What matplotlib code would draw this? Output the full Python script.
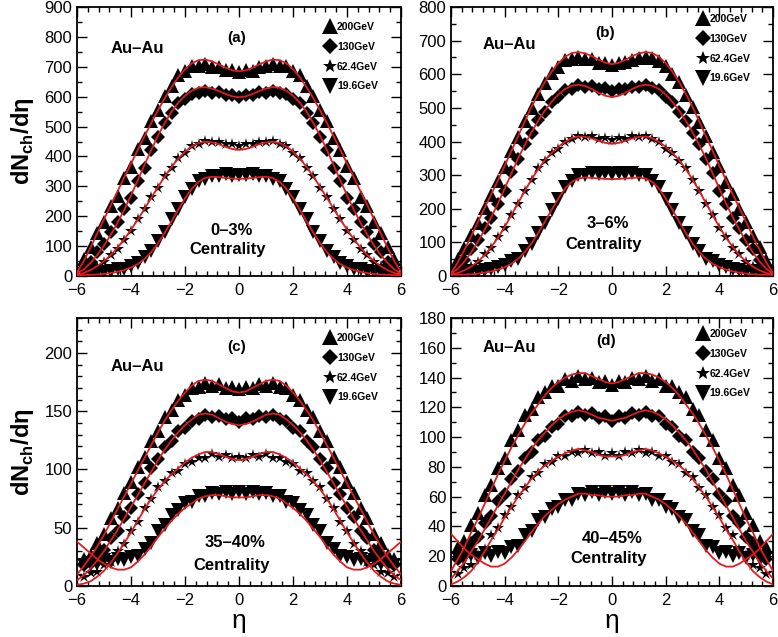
import numpy as np
import matplotlib
matplotlib.use("Agg")
import matplotlib.pyplot as plt
from matplotlib.ticker import MultipleLocator

plt.rcParams['font.family'] = ['Liberation Sans', 'DejaVu Sans']
plt.rcParams['mathtext.fontset'] = 'custom'
plt.rcParams['mathtext.rm'] = 'Liberation Sans'
plt.rcParams['mathtext.bf'] = 'Liberation Sans:bold'

# pseudorapidity grids (data points and fit curves)
eta = np.arange(-5.75, 5.76, 0.25)
eta_fit = np.arange(-6.0, 6.01, 0.25)

energies = ["200GeV", "130GeV", "62.4GeV", "19.6GeV"]

# --- (a) 0-3% ---
a_200 = [58, 96, 143, 181, 233, 268, 328, 366, 424, 461, 518, 556, 603, 637, 671, 685, 703, 704, 709, 700, 699, 688, 689,
         681, 688, 687, 699, 701, 708, 704, 702, 686, 671, 637, 603, 557, 518, 462, 423, 367, 328, 266, 233, 182, 143, 97, 57]
a_130 = [28, 48, 80, 107, 148, 180, 225, 262, 318, 363, 421, 465, 513, 545, 578, 591, 609, 611, 620, 613, 616, 605, 607,
         599, 606, 605, 616, 613, 620, 611, 609, 591, 578, 545, 513, 465, 421, 363, 318, 262, 225, 180, 148, 107, 80, 48, 28]
a_62 = [13, 19, 33, 47, 70, 90, 122, 151, 190, 223, 264, 296, 335, 363, 394, 412, 434, 442, 451, 447, 449, 441, 442,
        436, 442, 441, 449, 447, 451, 442, 434, 412, 394, 363, 335, 296, 264, 223, 190, 151, 122, 90, 70, 47, 33, 19, 13]
a_19 = [6, 8, 9, 14, 16, 22, 25, 35, 43, 64, 83, 117, 148, 190, 223, 264, 290, 317, 326, 336, 335, 340, 336,
        339, 337, 340, 335, 336, 326, 317, 290, 264, 223, 190, 148, 117, 83, 64, 43, 35, 25, 22, 16, 14, 9, 8, 6]
a_200_fit = [12, 50, 95, 143, 190, 237, 283, 330, 376, 422, 468, 512, 555, 595, 632, 665, 692, 712, 722, 724, 718, 708, 697, 688,
             685, 688, 697, 708, 718, 724, 722, 712, 692, 665, 632, 595, 555, 512, 468, 422, 376, 330, 283, 237, 190, 143, 95, 50, 12]
a_130_fit = [8, 22, 44, 70, 102, 138, 178, 222, 270, 320, 372, 422, 470, 512, 550, 580, 603, 620, 630, 632, 627, 619, 609, 601,
             598, 601, 609, 619, 627, 632, 630, 620, 603, 580, 550, 512, 470, 422, 372, 320, 270, 222, 178, 138, 102, 70, 44, 22, 8]
a_62_fit = [4, 10, 20, 33, 50, 70, 95, 123, 155, 189, 225, 262, 298, 333, 365, 393, 416, 434, 445, 449, 447, 441, 432, 425,
            422, 425, 432, 441, 447, 449, 445, 434, 416, 393, 365, 333, 298, 262, 225, 189, 155, 123, 95, 70, 50, 33, 20, 10, 4]
a_19_fit = [3, 3, 4, 5, 7, 10, 14, 20, 28, 40, 57, 80, 110, 145, 183, 222, 260, 292, 315, 328, 332, 331, 328, 326,
            325, 326, 328, 331, 332, 328, 315, 292, 260, 222, 183, 145, 110, 80, 57, 40, 28, 20, 14, 10, 7, 5, 4, 3, 3]

# --- (b) 3-6% ---
b_200 = [52, 83, 122, 158, 203, 240, 284, 323, 372, 413, 462, 500, 542, 573, 605, 623, 642, 646, 652, 646, 644, 634, 634,
         628, 633, 637, 641, 649, 651, 647, 639, 626, 601, 577, 538, 504, 458, 417, 368, 327, 280, 244, 198, 162, 118, 87, 48]
b_130 = [29, 48, 79, 106, 142, 173, 215, 252, 308, 347, 393, 425, 463, 487, 518, 532, 553, 557, 568, 562, 566, 556, 558,
         551, 557, 556, 562, 563, 567, 558, 552, 533, 517, 488, 462, 426, 392, 348, 307, 253, 214, 173, 142, 106, 79, 48, 29]
b_62 = [12, 18, 31, 43, 64, 83, 115, 143, 182, 214, 254, 285, 320, 343, 366, 378, 398, 406, 416, 413, 415, 408, 409,
        404, 409, 408, 415, 413, 416, 406, 398, 378, 366, 343, 320, 285, 254, 214, 182, 143, 115, 83, 64, 43, 31, 18, 12]
b_19 = [6, 7, 12, 13, 18, 20, 27, 32, 44, 52, 74, 95, 129, 158, 197, 228, 264, 283, 299, 300, 306, 303, 307,
        304, 307, 303, 306, 300, 299, 283, 264, 228, 197, 158, 129, 95, 74, 52, 44, 32, 27, 20, 18, 13, 12, 7, 6]
b_200_fit = [8, 40, 78, 118, 160, 202, 243, 285, 328, 372, 416, 460, 503, 542, 577, 608, 633, 652, 663, 666, 662, 654, 643, 634,
             630, 634, 643, 654, 662, 666, 663, 652, 633, 608, 577, 542, 503, 460, 416, 372, 328, 285, 243, 202, 160, 118, 78, 40, 8]
b_130_fit = [7, 21, 43, 70, 102, 137, 175, 216, 260, 305, 350, 390, 428, 462, 492, 518, 540, 556, 566, 569, 565, 556, 545, 536,
             532, 536, 545, 556, 565, 569, 566, 556, 540, 518, 492, 462, 428, 390, 350, 305, 260, 216, 175, 137, 102, 70, 43, 21, 7]
b_62_fit = [4, 9, 17, 28, 43, 62, 86, 114, 146, 181, 217, 253, 287, 318, 345, 366, 384, 399, 410, 415, 414, 409, 402, 396,
            393, 396, 402, 409, 414, 415, 410, 399, 384, 366, 345, 318, 287, 253, 217, 181, 146, 114, 86, 62, 43, 28, 17, 9, 4]
b_19_fit = [4, 4, 4, 5, 7, 10, 14, 19, 26, 36, 51, 71, 97, 128, 162, 197, 231, 260, 280, 290, 293, 292, 290, 289,
            288, 289, 290, 292, 293, 290, 280, 260, 231, 197, 162, 128, 97, 71, 51, 36, 26, 19, 14, 10, 7, 5, 4, 4, 4]

# --- (c) 35-40% ---
c_200 = [23, 27, 37, 45, 58, 67, 80, 89, 102, 111, 124, 133, 145, 151, 160, 164, 170, 171, 174, 172, 173, 170, 171,
         169, 171, 170, 173, 172, 174, 171, 170, 164, 160, 151, 145, 133, 124, 111, 102, 89, 80, 67, 58, 45, 37, 27, 23]
c_130 = [18, 20, 27, 31, 41, 47, 59, 67, 79, 88, 101, 109, 119, 124, 133, 136, 142, 143, 147, 145, 146, 143, 144,
         141, 144, 143, 146, 145, 147, 143, 142, 136, 133, 124, 119, 109, 101, 88, 79, 67, 59, 47, 41, 31, 27, 20, 18]
c_62 = [8, 11, 12, 18, 21, 30, 36, 47, 55, 67, 75, 85, 90, 97, 99, 105, 106, 110, 110, 113, 111, 112, 110,
        111, 110, 112, 111, 113, 110, 110, 106, 105, 99, 97, 90, 85, 75, 67, 55, 47, 36, 30, 21, 18, 12, 11, 8]
c_19 = [18, 20, 19, 22, 21, 23, 22, 25, 26, 32, 37, 47, 52, 61, 65, 71, 72, 77, 77, 80, 79, 81, 79,
        81, 79, 81, 79, 80, 77, 77, 72, 71, 65, 61, 52, 47, 37, 32, 26, 25, 22, 23, 21, 22, 19, 20, 18]
c_200_fit = [10, 17, 25, 34, 44, 55, 66, 77, 88, 99, 110, 121, 132, 142, 151, 159, 166, 172, 176, 177, 176, 173, 170, 167,
             166, 167, 170, 173, 176, 177, 176, 172, 166, 159, 151, 142, 132, 121, 110, 99, 88, 77, 66, 55, 44, 34, 25, 17, 10]
c_130_fit = [5, 9, 15, 22, 30, 39, 48, 58, 68, 78, 88, 98, 108, 117, 125, 132, 138, 143, 147, 148, 147, 144, 141, 139,
             138, 139, 141, 144, 147, 148, 147, 143, 138, 132, 125, 117, 108, 98, 88, 78, 68, 58, 48, 39, 30, 22, 15, 9, 5]
c_62_fit = [1, 2, 4, 8, 13, 20, 28, 37, 46, 56, 66, 75, 83, 90, 96, 101, 106, 110, 113, 115, 115, 113, 111, 109,
            108, 109, 111, 113, 115, 115, 113, 110, 106, 101, 96, 90, 83, 75, 66, 56, 46, 37, 28, 20, 13, 8, 4, 2, 1]
c_19_fit = [38, 33, 28, 23, 19, 16, 14, 14, 16, 21, 27, 34, 42, 49, 56, 62, 67, 71, 75, 77, 78, 78, 77, 76,
            76, 76, 77, 78, 78, 77, 75, 71, 67, 62, 56, 49, 42, 34, 27, 21, 16, 14, 14, 16, 19, 23, 28, 33, 38]

# --- (d) 40-45% ---
d_200 = [26, 30, 41, 49, 61, 68, 79, 86, 98, 105, 115, 119, 127, 130, 134, 134, 139, 138, 141, 139, 140, 137, 138,
         135, 138, 137, 140, 139, 141, 138, 139, 134, 134, 130, 127, 119, 115, 105, 98, 86, 79, 68, 61, 49, 41, 30, 26]
d_130 = [18, 21, 29, 33, 42, 47, 57, 62, 72, 77, 86, 90, 98, 101, 107, 109, 114, 114, 117, 115, 116, 113, 114,
         111, 114, 113, 116, 115, 117, 114, 114, 109, 107, 101, 98, 90, 86, 77, 72, 62, 57, 47, 42, 33, 29, 21, 18]
d_62 = [8, 12, 14, 21, 25, 34, 39, 48, 53, 61, 66, 73, 76, 82, 83, 87, 87, 90, 89, 91, 89, 90, 87,
        89, 87, 90, 89, 91, 89, 90, 87, 87, 83, 82, 76, 73, 66, 61, 53, 48, 39, 34, 25, 21, 14, 12, 8]
d_19 = [19, 18, 21, 19, 22, 20, 23, 22, 26, 27, 34, 37, 44, 46, 52, 53, 58, 58, 62, 61, 63, 61, 63,
        62, 63, 61, 63, 61, 62, 58, 58, 53, 52, 46, 44, 37, 34, 27, 26, 22, 23, 20, 22, 19, 21, 18, 19]
d_200_fit = [10, 18, 26, 36, 45, 55, 65, 75, 84, 93, 101, 109, 116, 122, 128, 133, 137, 140, 142, 143, 143, 141, 139, 137,
             136, 137, 139, 141, 143, 143, 142, 140, 137, 133, 128, 122, 116, 109, 101, 93, 84, 75, 65, 55, 45, 36, 26, 18, 10]
d_130_fit = [5, 10, 16, 23, 30, 38, 46, 54, 62, 70, 78, 85, 92, 98, 103, 108, 112, 115, 117, 118, 117, 115, 113, 112,
             111, 112, 113, 115, 117, 118, 117, 115, 112, 108, 103, 98, 92, 85, 78, 70, 62, 54, 46, 38, 30, 23, 16, 10, 5]
d_62_fit = [1, 3, 6, 10, 16, 23, 31, 38, 46, 53, 60, 66, 72, 77, 81, 84, 87, 89, 91, 92, 91, 90, 88, 87,
            87, 87, 88, 90, 91, 92, 91, 89, 87, 84, 81, 77, 72, 66, 60, 53, 46, 38, 31, 23, 16, 10, 6, 3, 1]
d_19_fit = [35, 30, 25, 21, 18, 15, 13, 13, 15, 19, 24, 30, 36, 42, 47, 51, 55, 58, 60, 62, 62, 61, 61, 60,
            60, 60, 61, 61, 62, 62, 60, 58, 55, 51, 47, 42, 36, 30, 24, 19, 15, 13, 13, 15, 18, 21, 25, 30, 35]

panels = [
    dict(tag="(a)", cent="0\u20133%", data=[a_200, a_130, a_62, a_19], fits=[a_200_fit, a_130_fit, a_62_fit, a_19_fit],
         ymax=900, major=100, minor=50, rect=[0.099, 0.5667, 0.4165, 0.4223],
         au=(0.185, 0.844), tagpos=(0.494, 0.885), cpos=(0.478, 0.171, 0.10), leg_y=0.945, ylabel=True, xlabel=False),
    dict(tag="(b)", cent="3\u20136%", data=[b_200, b_130, b_62, b_19], fits=[b_200_fit, b_130_fit, b_62_fit, b_19_fit],
         ymax=800, major=100, minor=50, rect=[0.5797, 0.5667, 0.4139, 0.4223],
         au=(0.18, 0.862), tagpos=(0.478, 0.905), cpos=(0.487, 0.197, 0.119), leg_y=0.975, ylabel=False, xlabel=False),
    dict(tag="(c)", cent="35\u201340%", data=[c_200, c_130, c_62, c_19], fits=[c_200_fit, c_130_fit, c_62_fit, c_19_fit],
         ymax=230, major=50, minor=10, rect=[0.099, 0.0801, 0.4165, 0.4207],
         au=(0.185, 0.82), tagpos=(0.494, 0.89), cpos=(0.488, 0.162, 0.078), leg_y=0.945, ylabel=True, xlabel=True),
    dict(tag="(d)", cent="40\u201345%", data=[d_200, d_130, d_62, d_19], fits=[d_200_fit, d_130_fit, d_62_fit, d_19_fit],
         ymax=180, major=20, minor=10, rect=[0.5797, 0.0801, 0.4139, 0.4207],
         au=(0.18, 0.89), tagpos=(0.48, 0.914), cpos=(0.50, 0.179, 0.103), leg_y=0.96, ylabel=False, xlabel=True),
]

markers = ['^', 'D', '*', 'v']
msizes = [9.5, 7.2, 9.0, 9.5]

fig = plt.figure(figsize=(7.78, 6.37), dpi=100)

for p in panels:
    ax = fig.add_axes(p["rect"])
    handles = []
    for vals, m, ms, lab in zip(p["data"], markers, msizes, energies):
        h, = ax.plot(eta, vals, linestyle='none', marker=m, ms=ms, color='black', mew=0, label=lab, zorder=2)
        handles.append(h)
    for fv in p["fits"]:
        ax.plot(eta_fit, fv, color='#e3191e', lw=1.3, zorder=3)

    ax.set_xlim(-6, 6)
    ax.set_ylim(0, p["ymax"])
    ax.xaxis.set_major_locator(MultipleLocator(2))
    ax.xaxis.set_minor_locator(MultipleLocator(0.4))
    ax.yaxis.set_major_locator(MultipleLocator(p["major"]))
    ax.yaxis.set_minor_locator(MultipleLocator(p["minor"]))
    ax.tick_params(which='both', direction='in', top=True, right=True, width=1.0, labelsize=12)
    ax.tick_params(which='major', length=7)
    ax.tick_params(which='minor', length=3.5)
    ax.tick_params(axis='x', pad=5)
    for s in ax.spines.values():
        s.set_linewidth(1.3)

    ax.text(*p["au"], "Au\u2013Au", transform=ax.transAxes, ha='center', va='center', fontsize=12, fontweight='bold')
    ax.text(*p["tagpos"], p["tag"], transform=ax.transAxes, ha='center', va='center', fontsize=11, fontweight='bold')
    cx, cy1, cy2 = p["cpos"]
    ax.text(cx, cy1, p["cent"], transform=ax.transAxes, ha='center', va='center', fontsize=12, fontweight='bold')
    ax.text(cx - 0.012, cy2, "Centrality", transform=ax.transAxes, ha='center', va='center', fontsize=12, fontweight='bold')

    leg = ax.legend(handles=handles, loc='upper left', bbox_to_anchor=(0.765, p["leg_y"]), frameon=False,
                    handlelength=1.0, handletextpad=0.15, labelspacing=0.95, borderpad=0, borderaxespad=0,
                    markerscale=1.2, prop={'size': 7.5, 'weight': 'bold'})

    if p["ylabel"]:
        ax.set_ylabel("dN$_{\\mathbf{ch}}$/d\u03b7", fontsize=17, fontweight='bold', labelpad=6)
    if p["xlabel"]:
        ax.set_xlabel("\u03b7", fontsize=19, labelpad=1)

fig.savefig("out.png", dpi=100)
